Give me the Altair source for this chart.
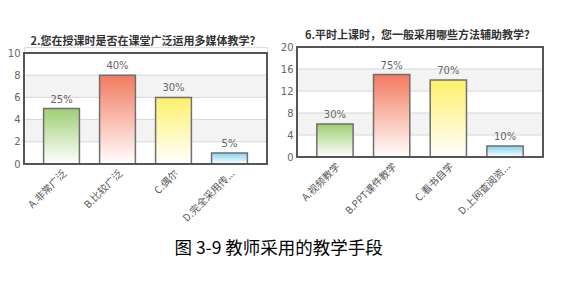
import altair as alt
import pandas as pd

left_cats = ["A.非常广泛", "B.比较广泛", "C.偶尔", "D.完全采用传..."]
left_vals = [5, 8, 6, 1]
left_pct = ["25%", "40%", "30%", "5%"]
left_title = "2.您在授课时是否在课堂广泛运用多媒体教学？"
left_ticks = [0, 2, 4, 6, 8, 10]
left_bands = [(2, 4), (6, 8)]

right_cats = ["A.视频教学", "B.PPT课件教学", "C.看书自学", "D.上网查阅资..."]
right_vals = [6, 15, 14, 2]
right_pct = ["30%", "75%", "70%", "10%"]
right_title = "6.平时上课时，您一般采用哪些方法辅助教学？"
right_ticks = [0, 4, 8, 12, 16, 20]
right_bands = [(4, 8), (12, 16)]

bar_colors = ["#9fce74", "#f27a5e", "#fff06a", "#84d2f2"]
caption = "图 3-9 教师采用的教学手段"

FONT = "DejaVu Sans"
CJK = "Noto Sans CJK SC"


def panel(cats, vals, pct, title, ticks, bands, w, h, toff, drop, tdy):
    df = pd.DataFrame({"cat": cats, "val": vals, "pct": pct})
    ymax = ticks[-1]
    H = h + drop
    x = alt.X("cat:N", sort=cats,
              scale=alt.Scale(paddingInner=0.36, paddingOuter=0.35),
              axis=alt.Axis(title=None, labelAngle=-45, domain=False, ticks=False,
                            labelFont=CJK, labelFontSize=10, labelColor="#555",
                            labelPadding=4, labelLimit=200))
    yscale = alt.Scale(domain=[0, ymax], nice=False, range=[H, drop])
    yaxis = alt.Axis(title=None, values=ticks, grid=False, domain=False, ticks=False,
                     labelFont=FONT, labelFontSize=10, labelColor="#666", labelPadding=4)
    y = alt.Y("val:Q", scale=yscale, axis=yaxis)
    bdf = pd.DataFrame({"y0": [b[0] for b in bands], "y1": [b[1] for b in bands]})
    band_layer = alt.Chart(bdf).mark_rect(color="#f3f3f3").encode(
        x=alt.value(0), x2=alt.value(w),
        y=alt.Y("y0:Q", scale=yscale, axis=yaxis), y2="y1:Q")
    gdf = pd.DataFrame({"t": ticks[1:-1]})
    grid_layer = alt.Chart(gdf).mark_rule(color="#d6d6d6", strokeWidth=1).encode(
        x=alt.value(0), x2=alt.value(w), y=alt.Y("t:Q", scale=yscale, axis=yaxis))
    base = alt.Chart(df)
    bars = []
    for c, col in zip(cats, bar_colors):
        grad = alt.Gradient(gradient="linear",
                            stops=[alt.GradientStop(color=col, offset=0),
                                   alt.GradientStop(color="#ffffff", offset=1)],
                            x1=0, x2=0, y1=0, y2=1)
        bars.append(base.transform_filter(alt.datum.cat == c)
                    .mark_bar(color=grad, stroke="#6f6f6f", strokeWidth=1.5)
                    .encode(x=x, y=y))
    text = base.mark_text(font=FONT, fontSize=10, color="#666", baseline="bottom", dy=-4).encode(
        x=x, y=y, text="pct:N")
    border = alt.Chart(pd.DataFrame({"k": [0]})).mark_rect(
        filled=False, stroke="#555", strokeWidth=2).encode(
        x=alt.value(0), x2=alt.value(w), y=alt.value(drop), y2=alt.value(H))
    layers = [band_layer, grid_layer, *bars, text, border]
    return alt.layer(*layers).properties(
        width=w, height=H,
        title=alt.TitleParams(title, font=CJK, fontSize=11, fontWeight="bold",
                              color="#333", anchor="middle", offset=toff, dy=tdy))


left = panel(left_cats, left_vals, left_pct, left_title, left_ticks, left_bands, 243, 111, 1, 6, 1)
right = panel(right_cats, right_vals, right_pct, right_title, right_ticks, right_bands, 246, 110, 1, 0, 0)

chart = alt.hconcat(left, right, spacing=10).properties(
    title=alt.TitleParams(caption, orient="bottom", anchor="middle", font=CJK,
                          fontSize=17.5, fontWeight="normal", color="#000", offset=16, dx=3),
    padding={"left": 6, "top": 29, "right": 5, "bottom": 5},
).configure_view(stroke=None).configure(background="white")

chart.save("out.html", embed_options={"renderer": "svg", "actions": False})
